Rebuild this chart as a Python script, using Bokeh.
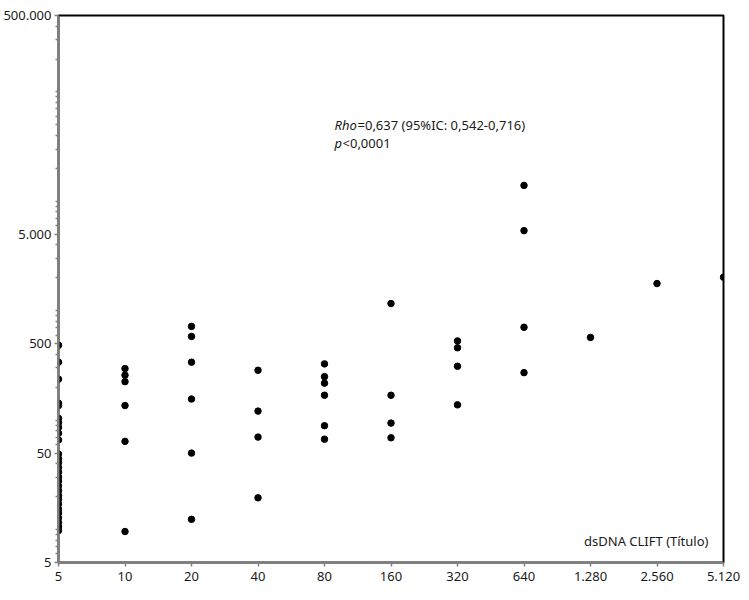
from bokeh.plotting import figure
from bokeh.models import FixedTicker, Label, ColumnDataSource
from bokeh.embed import file_html
from bokeh.resources import INLINE

# Categories (dsDNA CLIFT titers) and tick labels
titers = [5, 10, 20, 40, 80, 160, 320, 640, 1280, 2560, 5120]
x_tick_labels = ["5", "10", "20", "40", "80", "160", "320", "640", "1.280", "2.560", "5.120"]
y_ticks = [5, 50, 500, 5000, 500000]
y_tick_labels = ["5", "50", "500", "5.000", "500.000"]

# Values per titer
vals_5 = [483, 339, 237, 143, 136, 104, 95, 86, 76, 66, 49, 44.5, 40.9, 36.9, 33.4,
          30.2, 27.8, 25.1, 22.7, 20.5, 18.9, 17.1, 15.4, 14.2, 12.8, 11.6, 10.6, 9.8]
vals_10 = [296, 258, 225, 136, 64, 9.6]
vals_20 = [720, 583, 339, 156, 50, 12.4]
vals_40 = [286, 121, 70, 19.5]
vals_80 = [327, 250, 218, 169, 89, 67]
vals_160 = [1164, 169, 94, 69]
vals_320 = [530, 459, 311, 138]
vals_640 = [14000, 5400, 706, 272]
vals_1280 = [571]
vals_2560 = [1774]
vals_5120 = [2028]

groups = [vals_5, vals_10, vals_20, vals_40, vals_80, vals_160, vals_320,
          vals_640, vals_1280, vals_2560, vals_5120]
xs, ys = [], []
for t, g in zip(titers, groups):
    xs += [t] * len(g)
    ys += g
src = ColumnDataSource(dict(x=xs, y=ys))

FONT = "Noto Sans"

p = figure(width=749, height=600, x_axis_type="log", y_axis_type="log",
           x_range=(5, 5120), y_range=(5, 500000),
           output_backend="svg", toolbar_location=None)
p.min_border_left = 40
p.min_border_right = 26
p.min_border_top = 15
p.min_border_bottom = 38
p.background_fill_color = "white"
p.border_fill_color = "white"
p.outline_line_color = "black"
p.outline_line_width = 2
p.xgrid.visible = False
p.ygrid.visible = False

p.xaxis.ticker = FixedTicker(ticks=titers)
p.xaxis.major_label_overrides = {t: l for t, l in zip(titers, x_tick_labels)}
minor = []
for e in range(0, 6):
    for k in range(1, 10):
        v = k * 10 ** e
        if 5 < v < 500000 and v not in y_ticks:
            minor.append(v)
p.yaxis.ticker = FixedTicker(ticks=y_ticks, minor_ticks=minor)
p.yaxis.major_label_overrides = {t: l for t, l in zip(y_ticks, y_tick_labels)}

for ax in (p.xaxis, p.yaxis):
    ax.axis_line_color = "#808080"
    ax.axis_line_width = 2
    ax.major_tick_line_color = "#808080"
    ax.minor_tick_line_color = "#808080"
    ax.major_tick_line_width = 1.5
    ax.minor_tick_line_width = 1.5
    ax.major_tick_in = 0
    ax.minor_tick_in = 0
    ax.major_label_text_font = FONT
    ax.major_label_text_font_size = "13px"
    ax.major_label_text_color = "#1a1a1a"
p.xaxis.major_tick_out = 4
p.xaxis.minor_tick_out = 0
p.xaxis.major_label_standoff = 5
p.yaxis.major_tick_out = 4
p.yaxis.minor_tick_out = 3
p.yaxis.major_label_standoff = 3

p.scatter("x", "y", source=src, size=6.5, color="black", marker="circle")

x0, y0 = 88.8, 59700
common = dict(text_font=FONT, text_font_size="13px", text_color="#1a1a1a", text_baseline="top")
p.add_layout(Label(x=x0, y=y0, text="Rho", text_font_style="italic", **common))
p.add_layout(Label(x=x0, y=y0, x_offset=23, text="=0,637 (95%IC: 0,542-0,716)", **common))
p.add_layout(Label(x=x0, y=y0, y_offset=-18, text="p", text_font_style="italic", **common))
p.add_layout(Label(x=x0, y=y0, y_offset=-18, x_offset=8, text="<0,0001", **common))
p.add_layout(Label(x=4377, y=7.78, text="dsDNA CLIFT (Título)", text_font=FONT,
                   text_font_size="13px", text_color="#1a1a1a",
                   text_align="right", text_baseline="middle"))

open("out.html", "w").write(file_html(p, INLINE))
